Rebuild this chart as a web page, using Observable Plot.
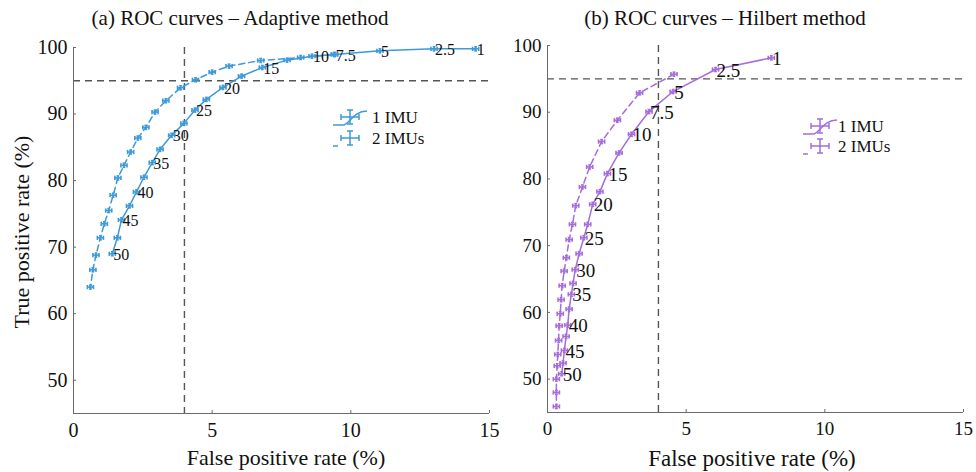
<!DOCTYPE html>
<html><head><meta charset="utf-8">
<script src="https://cdn.jsdelivr.net/npm/d3@7"></script>
<script src="https://cdn.jsdelivr.net/npm/@observablehq/plot@0.6"></script>
<style>
body{margin:0;background:#fff;}
#root{position:relative;width:976px;height:472px;overflow:hidden;background:#fff;font-family:"Liberation Serif",serif;color:#111;}
#root svg, #root svg text{font-family:"Liberation Serif",serif !important;}
.abs{position:absolute;white-space:nowrap;line-height:1;}
.title{font-size:21px;transform:translate(-50%,-50%);}
.xlab{font-size:22px;transform:translate(-50%,-50%);}
.ylab{font-size:22px;transform:translate(-50%,-50%) rotate(-90deg);}
.leg{font-size:17px;transform:translateY(-50%);}
svg.panel{position:absolute;top:0;}
</style></head><body>
<div id="root"></div>
<script>
// thresholds (ordered as plotted, 1 -> 50)
const thresholds = [1, 2.5, 5, 7.5, 10, 12.5, 15, 17.5, 20, 22.5, 25, 27.5, 30, 32.5, 35, 37.5, 40, 42.5, 45, 47.5, 50];
const labeledThresholds = [1, 2.5, 5, 7.5, 10, 15, 20, 25, 30, 35, 40, 45, 50];

// (a) Adaptive method
const adaptive1FPR = [14.5, 13.0, 11.05, 9.42, 8.6, 7.7, 6.81, 6.06, 5.39, 4.79, 4.38, 3.98, 3.54, 3.12, 2.84, 2.54, 2.27, 2.02, 1.73, 1.58, 1.40];
const adaptive1TPR = [99.8, 99.8, 99.5, 98.95, 98.7, 98.1, 97.0, 95.7, 94.0, 92.2, 90.6, 88.6, 86.8, 84.7, 82.7, 80.5, 78.3, 76.2, 74.1, 71.4, 69.0];
const adaptive2FPR = [9.4, 8.19, 6.75, 5.61, 5.0, 4.40, 3.86, 3.33, 2.94, 2.61, 2.32, 2.06, 1.82, 1.60, 1.43, 1.27, 1.11, 0.97, 0.81, 0.70, 0.61];
const adaptive2TPR = [98.95, 98.5, 98.05, 97.2, 96.3, 95.15, 93.95, 92.0, 90.3, 88.0, 86.4, 84.3, 82.3, 80.4, 77.8, 75.5, 73.5, 71.4, 68.8, 66.6, 64.0];

// (b) Hilbert method
const hilbert1FPR = [8.07, 6.06, 4.53, 3.66, 3.03, 2.58, 2.16, 1.89, 1.63, 1.45, 1.31, 1.14, 1.0, 0.92, 0.86, 0.78, 0.73, 0.67, 0.61, 0.56, 0.51];
const hilbert1TPR = [98.15, 96.4, 93.1, 90.1, 86.7, 83.9, 80.8, 78.1, 76.2, 73.2, 71.2, 68.8, 66.4, 64.35, 62.7, 60.5, 58.1, 56.4, 54.3, 52.4, 50.8];
const hilbert2FPR = [4.56, 3.32, 2.52, 1.95, 1.52, 1.26, 1.02, 0.90, 0.78, 0.68, 0.60, 0.53, 0.49, 0.46, 0.42, 0.40, 0.37, 0.35, 0.32, 0.32, 0.32];
const hilbert2TPR = [95.7, 92.9, 88.8, 85.6, 81.8, 78.8, 76.0, 73.2, 70.9, 68.2, 66.2, 64.0, 61.9, 59.8, 58.0, 55.8, 53.7, 52.0, 50.0, 48.0, 45.9];

const xTicks = [0, 5, 10, 15];
const yTicks = [50, 60, 70, 80, 90, 100];
const xDomain = [0, 15];
const yDomain = [45, 100];
const fprCut = 4;
const tprCut = 95;
const seriesNames = ["1 IMU", "2 IMUs"];

const blue = "#3d9ad8";
const purple = "#a56ddb";

function rows(fpr, tpr) {
  return thresholds.map((t, i) => ({t, x: fpr[i], y: tpr[i]}));
}

function errorMarks(data, color) {
  const ex = 0.11, ey = 0.3, cx = 0.05, cy = 0.32;
  const st = {stroke: color, strokeWidth: 1.6};
  return [
    Plot.link(data, {x1: d => d.x - ex, x2: d => d.x + ex, y1: "y", y2: "y", ...st}),
    Plot.link(data, {x1: "x", x2: "x", y1: d => d.y - ey, y2: d => d.y + ey, ...st}),
    Plot.link(data, {x1: d => d.x - ex, x2: d => d.x - ex, y1: d => d.y - cy, y2: d => d.y + cy, ...st}),
    Plot.link(data, {x1: d => d.x + ex, x2: d => d.x + ex, y1: d => d.y - cy, y2: d => d.y + cy, ...st}),
    Plot.link(data, {x1: d => d.x - cx, x2: d => d.x + cx, y1: d => d.y - ey, y2: d => d.y - ey, ...st}),
    Plot.link(data, {x1: d => d.x - cx, x2: d => d.x + cx, y1: d => d.y + ey, y2: d => d.y + ey, ...st})
  ];
}

function panel({s1, s2, color, width, mL, mR, mT, mB, tickFont, labFont}) {
  const labeled = s1.filter(d => labeledThresholds.includes(d.t));
  return Plot.plot({
    width, height: 472,
    marginLeft: mL, marginRight: mR, marginTop: mT, marginBottom: mB,
    x: {domain: xDomain},
    y: {domain: yDomain},
    style: {fontFamily: "'Liberation Serif', serif", background: "transparent", color: "#111"},
    marks: [
      Plot.ruleY([tprCut], {stroke: "#555", strokeWidth: 1.4, strokeDasharray: "7,5"}),
      Plot.ruleX([fprCut], {stroke: "#555", strokeWidth: 1.4, strokeDasharray: "7,5"}),
      Plot.ruleX([xDomain[0]], {stroke: "#6a6a6a", strokeWidth: 1}),
      Plot.ruleY([yDomain[0]], {stroke: "#6a6a6a", strokeWidth: 1}),
      Plot.axisX({ticks: xTicks, tickSize: -3, tickPadding: 12, label: null, fontSize: tickFont, stroke: "#6a6a6a", tickFormat: d => String(d)}),
      Plot.axisY({ticks: yTicks, tickSize: -3, tickPadding: 9, label: null, fontSize: tickFont, stroke: "#6a6a6a", tickFormat: d => String(d)}),
      Plot.line(s2, {x: "x", y: "y", stroke: color, strokeWidth: 1.5, strokeDasharray: "6,4"}),
      Plot.line(s1, {x: "x", y: "y", stroke: color, strokeWidth: 1.5}),
      ...errorMarks(s2, color),
      ...errorMarks(s1, color),
      Plot.text(labeled, {x: "x", y: "y", text: d => String(d.t), textAnchor: "start", dx: 1, dy: 1, fontSize: labFont, fill: "#111"})
    ]
  });
}

const root = document.getElementById("root");

const left = panel({s1: rows(adaptive1FPR, adaptive1TPR), s2: rows(adaptive2FPR, adaptive2TPR), color: blue,
  width: 500, mL: 73, mR: 11, mT: 47, mB: 59, tickFont: 20, labFont: 16});
left.classList.add("panel"); left.style.left = "0px";
root.appendChild(left);

const right = panel({s1: rows(hilbert1FPR, hilbert1TPR), s2: rows(hilbert2FPR, hilbert2TPR), color: purple,
  width: 476, mL: 47, mR: 13, mT: 45, mB: 60, tickFont: 19, labFont: 19});
right.classList.add("panel"); right.style.left = "500px";
root.appendChild(right);

function addText(cls, txt, x, y, extra) {
  const d = document.createElement("div");
  d.className = "abs " + cls;
  d.textContent = txt;
  d.style.left = x + "px"; d.style.top = y + "px";
  if (extra) Object.assign(d.style, extra);
  root.appendChild(d);
}
addText("title", "(a) ROC curves – Adaptive method", 240, 18);
addText("title", "(b) ROC curves – Hilbert method", 725, 18);
addText("xlab", "False positive rate (%)", 286, 458);
addText("xlab", "False positive rate (%)", 752, 458, {fontSize: "23px"});
addText("ylab", "True positive rate (%)", 22, 232);

function legend(x0, textX, y1, y2, color) {
  const ns = "http://www.w3.org/2000/svg";
  const svg = document.createElementNS(ns, "svg");
  svg.setAttribute("width", 976); svg.setAttribute("height", 472);
  svg.style.position = "absolute"; svg.style.left = "0"; svg.style.top = "0";
  const items = [[y1, null], [y2, "5,4"]];
  for (const [y, dash] of items) {
    const g = document.createElementNS(ns, "g");
    g.setAttribute("stroke", color); g.setAttribute("stroke-width", "1.5"); g.setAttribute("fill", "none");
    const line = document.createElementNS(ns, "path");
    line.setAttribute("d", `M${x0},${y + 8}L${x0 + 10},${y + 8}C${x0 + 16},${y + 8} ${x0 + 20},${y - 6} ${x0 + 34},${y - 6}`);
    if (dash) { line.setAttribute("d", `M${x0},${y + 8}L${x0 + 5},${y + 8}`); }
    g.appendChild(line);
    const cx = x0 + 17;
    const p = document.createElementNS(ns, "path");
    p.setAttribute("d", `M${cx - 9},${y}H${cx + 9}M${cx - 9},${y - 3}V${y + 3}M${cx + 9},${y - 3}V${y + 3}M${cx},${y - 7}V${y + 7}M${cx - 3},${y - 7}H${cx + 3}M${cx - 3},${y + 7}H${cx + 3}`);
    g.appendChild(p);
    svg.appendChild(g);
  }
  root.appendChild(svg);
  addText("leg", seriesNames[0], textX, y1);
  addText("leg", seriesNames[1], textX, y2);
}
legend(333, 372, 117, 138, blue);
legend(803, 838, 126, 146, purple);
</script>
</body></html>
